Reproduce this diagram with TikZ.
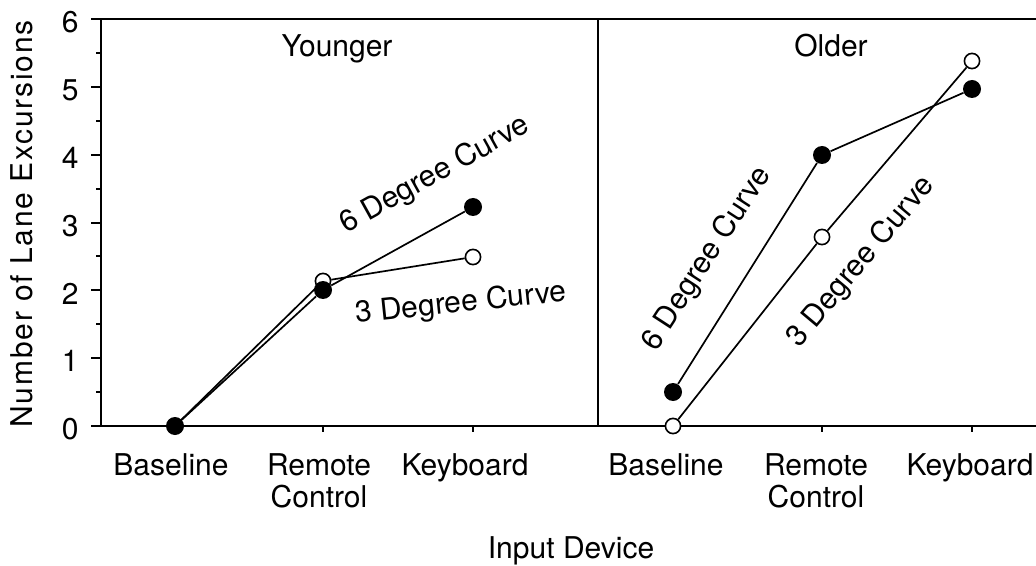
\documentclass[tikz,border=0pt]{standalone}
\usepackage{fontspec}
\setmainfont{TeX Gyre Heros}
\usetikzlibrary{positioning,backgrounds}
\tikzset{
  axisline/.style = {line width=1pt, draw=black},
  dataline/.style = {line width=0.85pt, draw=black},
  fullpt/.style   = {circle, fill=black, inner sep=0pt, minimum size=9pt},
  openpt/.style   = {circle, draw=black, fill=white, line width=0.8pt, inner sep=0pt, minimum size=7.6pt},
  ticklbl/.style  = {font=\fontsize{15}{18}\selectfont, anchor=east, inner sep=0pt},
  catlbl/.style   = {font=\fontsize{15}{16}\selectfont, align=center, anchor=north, inner sep=0pt},
  curvelbl/.style = {font=\fontsize{15}{18}\selectfont, inner sep=0pt},
}

\begin{document}
\begin{tikzpicture}[x=0.5pt, y=-0.5pt]
\useasboundingbox (0,0) rectangle (1036,566);

% ---- panel titles and axis labels ----
\node[curvelbl, anchor=base] (young) at (337,57) {Younger};
\node[curvelbl, anchor=base] (old) at (831,57) {Older};
\node[curvelbl, rotate=90] (ylab) at (22,224)
  {\addfontfeature{LetterSpace=6}Number of Lane Excursions};
\node[curvelbl, anchor=base] (xlab) at (571,558) {Input Device};
\foreach \v in {0,...,6}
  \node[ticklbl] (ytick\v) at (79,{426-67.8*\v+3}) {\v};

% ---- device names ----
\node[catlbl] (ybase) at (171,453) {Baseline};
\node[catlbl] (yrem) at (319,453) {Remote\\Control};
\node[catlbl] (ykey) at (465,453) {Keyboard};
\node[catlbl] (obase) at (666,453) {Baseline};
\node[catlbl] (orem) at (816,453) {Remote\\Control};
\node[catlbl] (okey) at (970,453) {Keyboard};

% ---- data: 3 degree curve (open) ----
\node[openpt] (yb3) at (175,426) {};
\node[openpt] (yr3) at (323,281) {};
\node[openpt] (yk3) at (473,257) {};
\node[openpt] (ob3) at (673,426) {};
\node[openpt] (or3) at (822,237) {};
\node[openpt] (ok3) at (972,61) {};

% ---- data: 6 degree curve (filled) ----
\node[fullpt] (yb6) at (175,426) {};
\node[fullpt] (yr6) at (323,290) {};
\node[fullpt] (yk6) at (473,207) {};
\node[fullpt] (ob6) at (673,392) {};
\node[fullpt] (or6) at (822,155) {};
\node[fullpt] (ok6) at (972,89) {};

% ---- curve names ----
\node[curvelbl, rotate=29] (y6lab) at (435,175) {6 Degree Curve};
\node[curvelbl, rotate=6] (y3lab) at (461,304) {3 Degree Curve};
\node[curvelbl, rotate=57] (o6lab) at (707,259) {6 Degree Curve};
\node[curvelbl, rotate=50] (o3lab) at (861,262) {3 Degree Curve};

\begin{scope}[on background layer]
  % frame
  \draw[axisline] (91,19) -- (1036,19);
  \draw[axisline] (91,426) -- (1036,426);
  \draw[axisline] (101,19) -- (101,426);
  \draw[axisline] (598,19) -- (598,426);
  \foreach \v in {0,...,6}
    \draw[axisline] (91,{426-67.8*\v}) -- (101,{426-67.8*\v});
  \foreach \v in {0.5,1.5,...,5.5}
    \draw[axisline] (96,{426-67.8*\v}) -- (101,{426-67.8*\v});
  \foreach \x in {175,323,473,673,822,972}
    \draw[axisline] (\x,426) -- (\x,432);
  % lines
  \draw[dataline] (yb3) -- (yr3) -- (yk3);
  \draw[dataline] (yb6) -- (yr6) -- (yk6);
  \draw[dataline] (ob3) -- (or3) -- (ok3);
  \draw[dataline] (ob6) -- (or6) -- (ok6);
\end{scope}

\end{tikzpicture}
\end{document}
